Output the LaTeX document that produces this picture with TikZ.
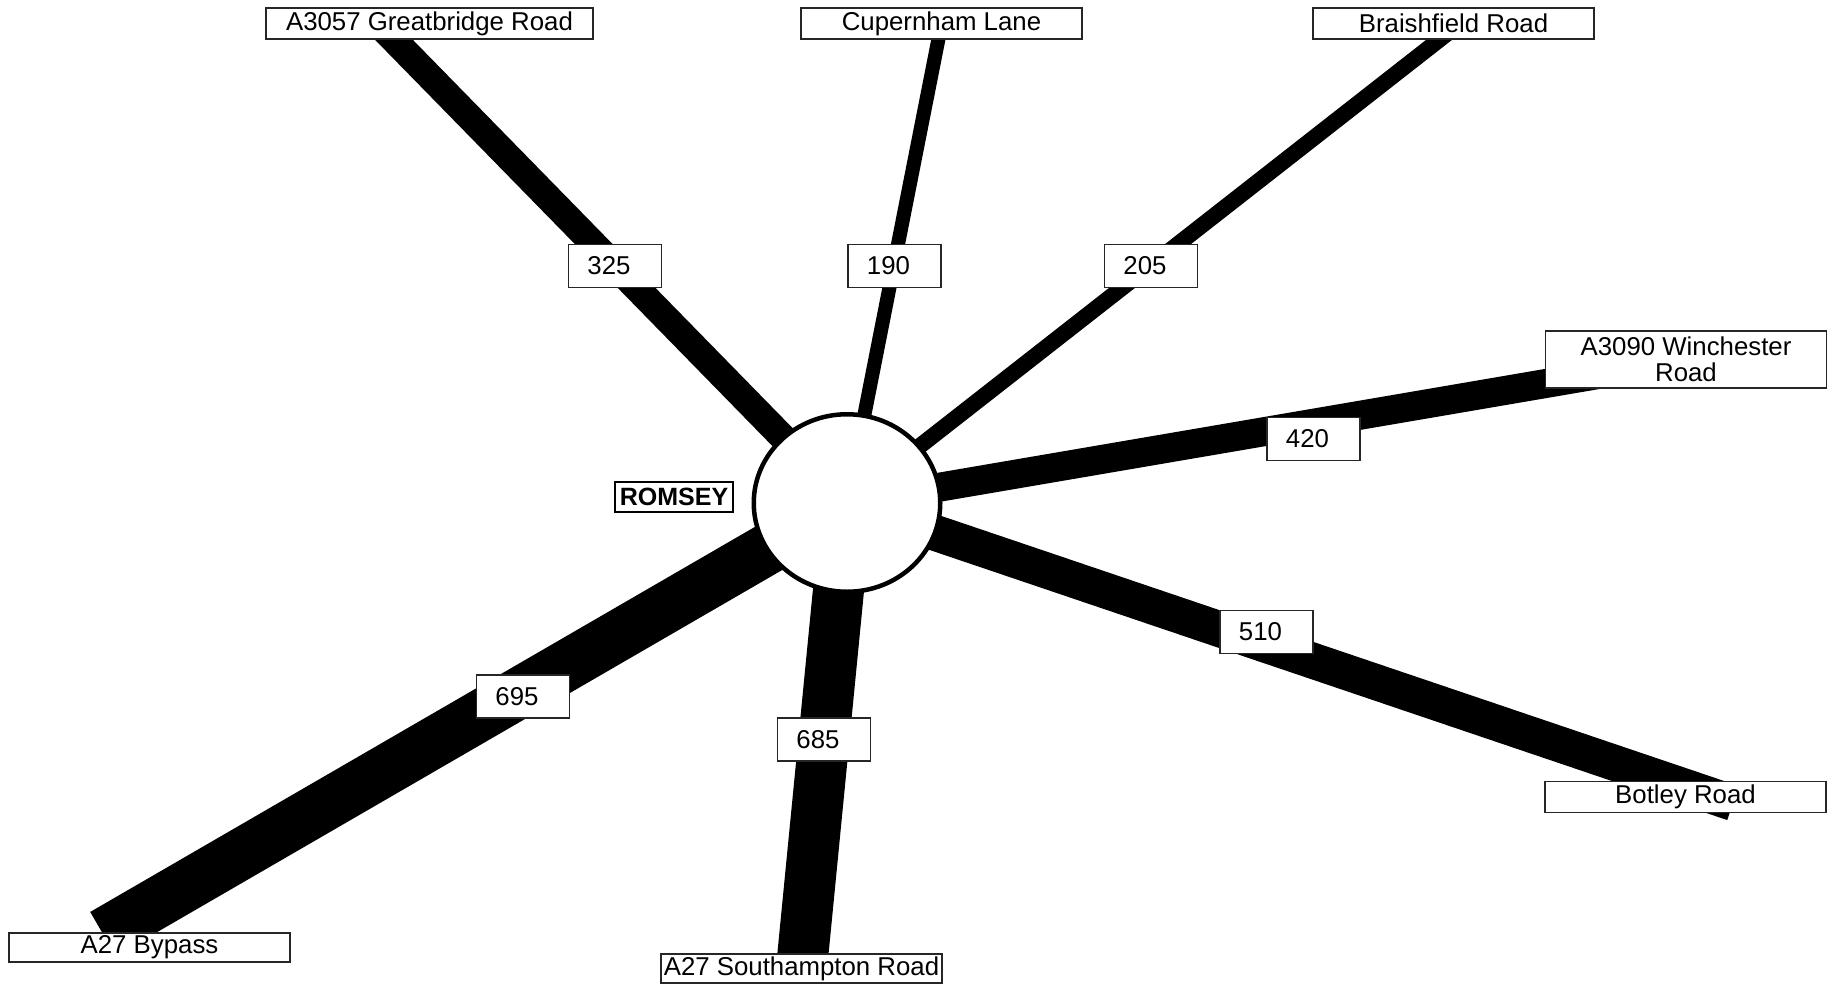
\documentclass[tikz,border=0pt]{standalone}
\usepackage{fontspec}
\setmainfont{Liberation Sans}
\usetikzlibrary{shapes.geometric,backgrounds}

\begin{document}
\begin{tikzpicture}[x=0.5pt,y=-0.5pt,
		namebox/.style={draw=black!85,line width=0.75pt,fill=white,minimum width=140.5pt,minimum height=15.5pt,inner sep=1pt,align=center,font=\fontsize{12.9}{13}\selectfont},
		valbox/.style={draw=black!85,line width=0.75pt,fill=white,minimum width=46.5pt,minimum height=21.5pt,inner sep=1pt,font=\fontsize{12.9}{13}\selectfont,execute at begin node={\kern-6pt}},
		road/.style={line width=#1,black}]
	\useasboundingbox (0,0) rectangle (1832,986);
			\node[ellipse,draw,line width=2.25pt,fill=white,minimum width=93.25pt,minimum height=88.75pt,inner sep=0pt] (hub) at (847,503) {};
			\node[draw,line width=0.9pt,minimum width=59pt,minimum height=15pt,inner sep=0pt,font=\bfseries\fontsize{12.5}{13}\selectfont] (romsey) at (674,497) {ROMSEY};
			\node[namebox,minimum width=163.5pt] (gb) at (429.5,23.5) {A3057 Greatbridge Road};
			\node[namebox] (cl) at (941.5,23.5) {Cupernham Lane};
			\node[namebox] (bf) at (1453.5,23.5) {Braishfield Road};
			\node[namebox,minimum height=28.5pt] (wr) at (1686,359.5) {A3090 Winchester\\Road};
			\node[namebox] (br) at (1685.5,797) {Botley Road};
			\node[namebox,minimum height=14.5pt] (sr) at (801.5,968.5) {A27 Southampton Road};
			\node[namebox,minimum height=14.5pt] (bp) at (149.5,947.5) {A27 Bypass};
			\coordinate (gbend) at (378,23.5);
			\coordinate (bfend) at (1460,23.5);
			\coordinate (brend) at (1733,803);
			\coordinate (bpend) at (103,934);
			\node[valbox] (v325) at (615,266) {325};
			\node[valbox] (v190) at (894.5,266) {190};
			\node[valbox] (v205) at (1151,266) {205};
			\node[valbox] (v420) at (1313.5,439) {420};
			\node[valbox] (v510) at (1266.5,632) {510};
			\node[valbox] (v685) at (824,739.5) {685};
			\node[valbox] (v695) at (523,696.5) {695};
			\begin{scope}[on background layer]
			\path 	(hub.center) edge[road=13.5pt] 	(gbend)
							edge[road=7pt] 		(cl.center)
							edge[road=8pt] 		(bfend)
							edge[road=14.5pt] 	(wr.center)
							edge[road=18pt] 	(brend)
							edge[road=25.5pt] 	(sr.center)
							edge[road=25.5pt] 	(bpend);
			\end{scope}
	\end{tikzpicture}
\end{document}
